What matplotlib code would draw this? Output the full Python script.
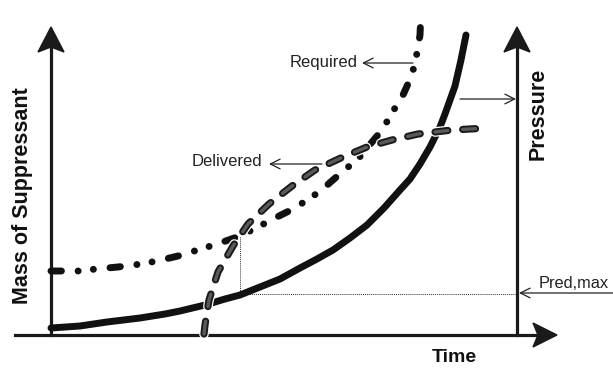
import numpy as np
import matplotlib
matplotlib.use('Agg')
import matplotlib.pyplot as plt
from matplotlib.patches import Polygon
import matplotlib.patheffects as pe

plt.rcParams['font.family'] = ['Liberation Sans', 'DejaVu Sans']

# curves (pixel space, y down)
pressure_x = [51, 80, 107, 140, 165, 180, 205, 225, 240, 260, 280, 300, 317, 333, 350, 367,
              384, 400, 410, 420, 430, 440, 445, 450, 455, 458, 461, 463, 466]
pressure_y = [328, 326, 322, 318, 314, 311, 305, 299, 295, 287, 279, 268, 259, 250, 238, 225,
              208, 190, 179, 164, 147, 127, 114, 100, 86, 73, 60, 50, 35]

required_x = [51, 80, 96, 118, 141, 157, 178, 201, 217, 240, 258, 273, 293, 312, 325, 342, 358,
              382, 395, 403, 412, 417, 420, 421]
required_y = [271, 271, 269, 267, 264, 261, 256, 249, 244, 236, 227, 219, 209, 197, 187, 172, 159,
              130, 108, 95, 75, 53, 35, 12]

delivered_x = [204, 205, 209, 218, 233, 248, 269, 292, 315, 343, 367, 392, 418, 452, 488]
delivered_y = [334, 325, 300, 272, 246, 224, 204, 186, 170, 157, 147, 140, 134, 130, 128]

# point where delivered meets required -> Pred,max
pred_x, pred_top, pred_y = 240, 237, 294

fig = plt.figure(figsize=(6.13, 3.72), dpi=100)
ax = fig.add_axes([0, 0, 1, 1])
ax.set_xlim(0, 613)
ax.set_ylim(372, 0)
ax.axis('off')

def head(tip, direction, length=25, half=13, notch=5):
    tx, ty = tip
    dx, dy = direction
    px, py = -dy, dx
    bx, by = tx - dx*length, ty - dy*length
    pts = [(tx, ty), (bx + px*half, by + py*half), (bx + dx*notch, by + dy*notch),
           (bx - px*half, by - py*half)]
    ax.add_patch(Polygon(pts, closed=True, color='#1a1a1a', zorder=3))

# axes
ax.plot([51, 51], [335, 45], color='#1a1a1a', lw=2.3, zorder=2)
head((51, 27), (0, -1))
ax.plot([517, 517], [335, 45], color='#1a1a1a', lw=2.3, zorder=2)
head((517, 27), (0, -1))
ax.plot([15, 540], [335, 335], color='#1a1a1a', lw=2.3, zorder=2)
head((557, 335), (1, 0), length=24, half=12)

# dotted guide lines
ax.plot([pred_x, pred_x], [pred_top, pred_y], color='#333333', lw=0.7, ls=(0, (1, 1)), zorder=2)
ax.plot([pred_x, 515], [pred_y, pred_y], color='#333333', lw=0.7, ls=(0, (1, 1)), zorder=2)

# pressure curve
ax.plot(pressure_x, pressure_y, color='#111111', lw=5, solid_capstyle='round',
        solid_joinstyle='round', zorder=4)

# required curve (dash-dot-dot)
ax.plot(required_x, required_y, color='#111111', lw=5, ls=(0, (1.5, 2.4, 0.01, 2.2, 0.01, 2.4)),
        dash_capstyle='round', dash_joinstyle='round', zorder=5)

# delivered curve (hatched dashes)
ax.plot(delivered_x, delivered_y, color='#555555', lw=5, ls=(0, (1.85, 2.15)),
        dash_capstyle='round', dash_joinstyle='round', zorder=6,
        path_effects=[pe.Stroke(linewidth=7, foreground='white'),
                      pe.Stroke(linewidth=5.2, foreground='#1a1a1a'),
                      pe.Stroke(linewidth=2.4, foreground='#5a5a5a')])

# annotations
arr = dict(arrowstyle='->,head_length=0.7,head_width=0.35', lw=0.9, color='#222222',
           shrinkA=0, shrinkB=0)
ax.annotate('', xy=(362, 63), xytext=(413, 63), arrowprops=arr, zorder=7)
ax.text(358, 62, 'Required', ha='right', va='center', fontsize=12, color='#222222')
ax.annotate('', xy=(269, 164), xytext=(322, 164), arrowprops=arr, zorder=7)
ax.text(262, 162, 'Delivered', ha='right', va='center', fontsize=12, color='#222222')
ax.annotate('', xy=(516, 99), xytext=(460, 99), arrowprops=arr, zorder=7)
ax.annotate('', xy=(519, 293), xytext=(613, 293), arrowprops=arr, zorder=7)
ax.text(539, 283, 'Pred,max', ha='left', va='center', fontsize=11.8, color='#222222')

# axis titles
ax.text(23, 196, 'Mass of Suppressant', rotation=90, ha='center', va='center',
        fontsize=15.5, fontweight='bold', color='#111111')
ax.text(538, 114, 'Pressure', rotation=90, ha='center', va='center',
        fontsize=15.5, fontweight='bold', color='#111111')
ax.text(454, 357, 'Time', ha='center', va='center', fontsize=14, fontweight='bold', color='#111111')

fig.savefig('out.png', dpi=100)
